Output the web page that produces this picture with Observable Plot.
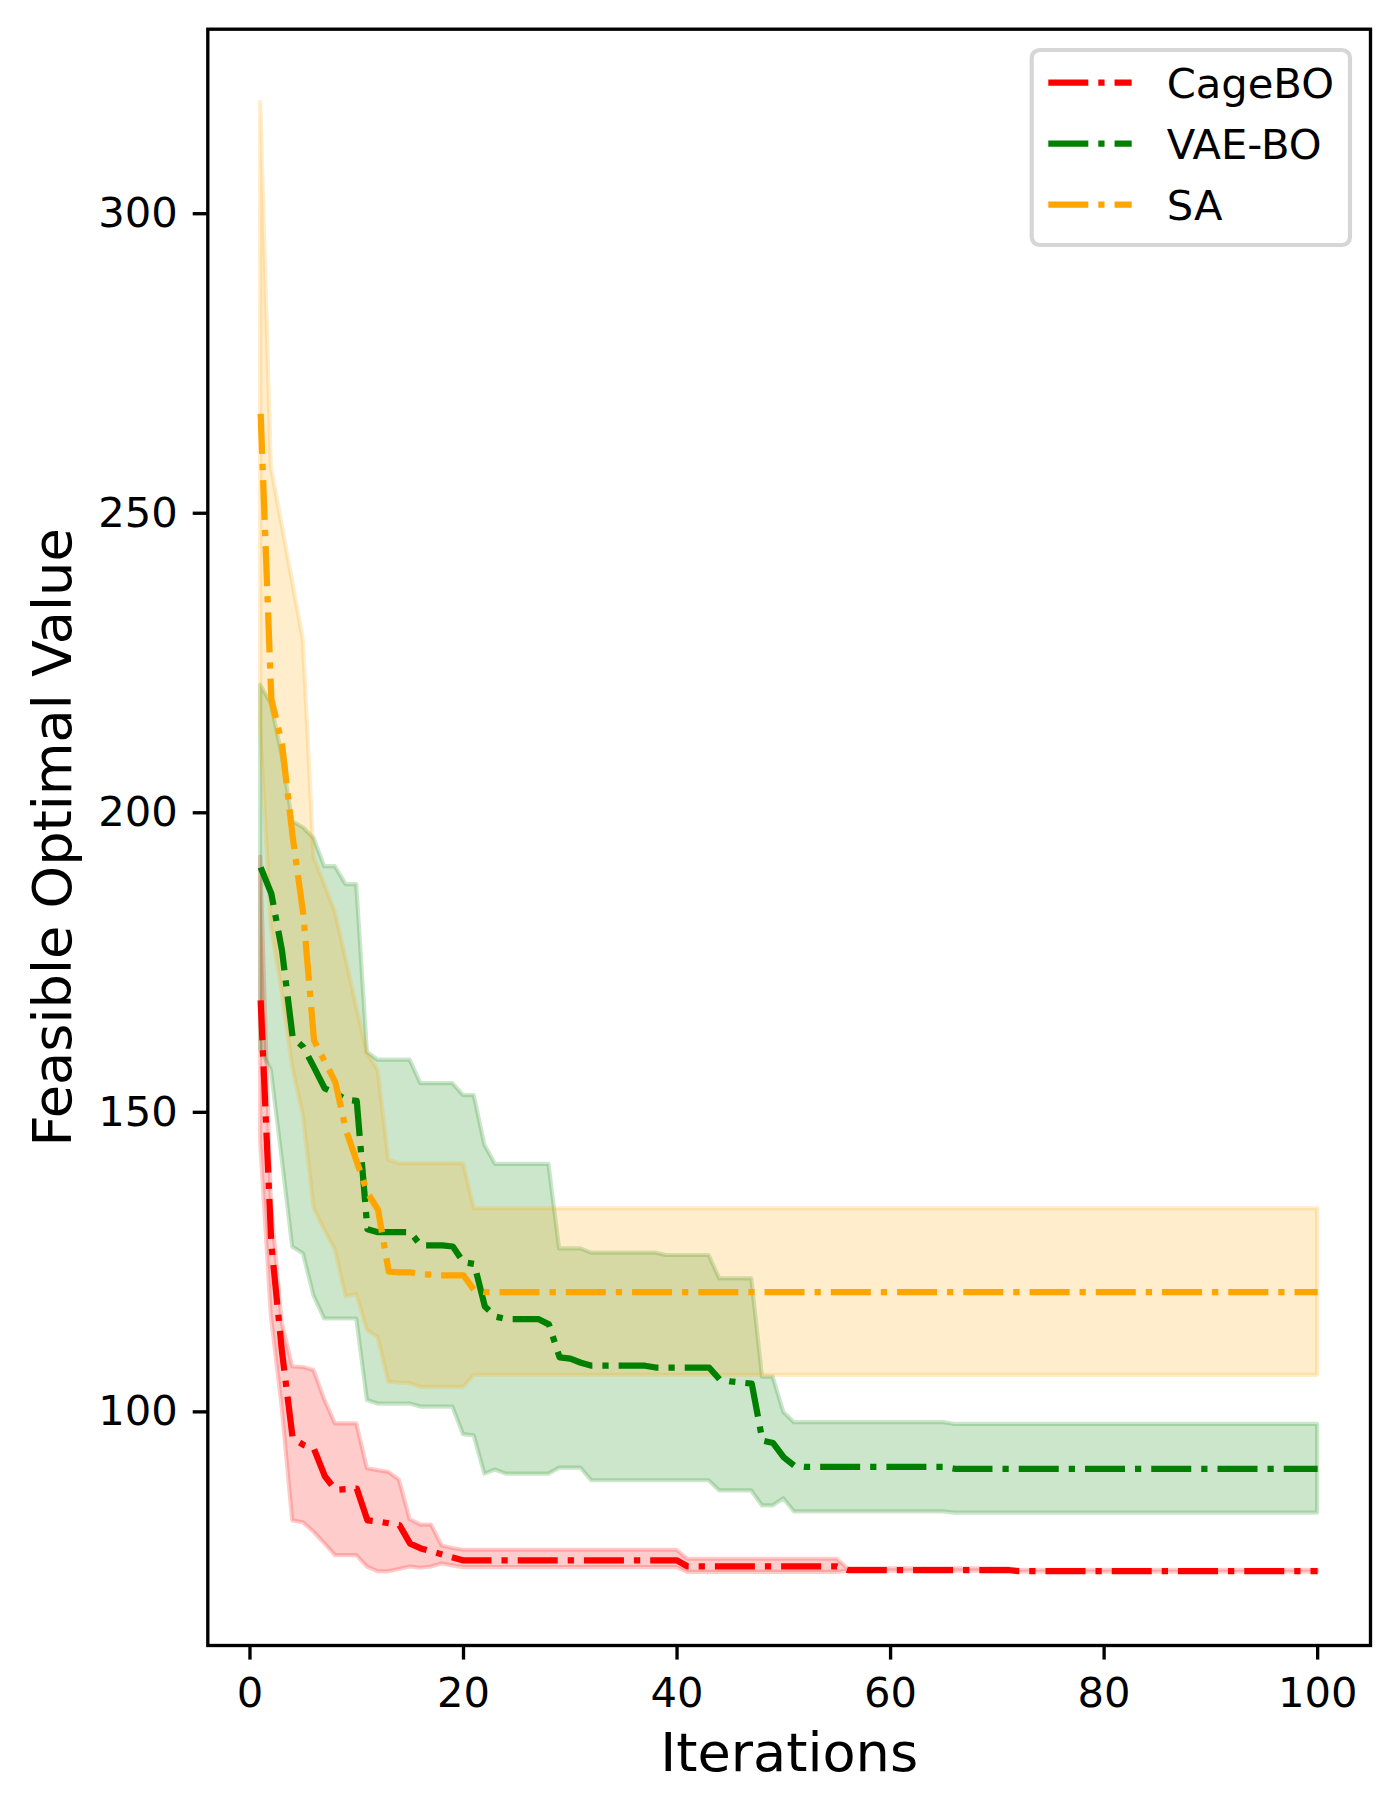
<!DOCTYPE html>
<html><head><meta charset="utf-8">
<script src="https://cdn.jsdelivr.net/npm/d3@7"></script>
<script src="https://cdn.jsdelivr.net/npm/@observablehq/plot@0.6"></script>
<style>
html,body{margin:0;padding:0;background:#fff;}
#wrap{position:relative;width:1399px;height:1814px;}
#legend{position:absolute;left:0;top:0;pointer-events:none;}
</style></head><body><div id="wrap"></div>
<script>
const iterations = [1,2,3,4,5,6,7,8,9,10,11,12,13,14,15,16,17,18,19,20,21,22,23,24,25,26,27,28,29,30,31,32,33,34,35,36,37,38,39,40,41,42,43,44,45,46,47,48,49,50,51,52,53,54,55,56,57,58,59,60,61,62,63,64,65,66,67,68,69,70,71,72,73,74,75,76,77,78,79,80,81,82,83,84,85,86,87,88,89,90,91,92,93,94,95,96,97,98,99,100];
const seriesNames = ["CageBO", "VAE-BO", "SA"];
const seriesColors = ["#ff0000", "#008000", "#ffa500"];
const xTicks = [0, 20, 40, 60, 80, 100];
const yTicks = [100, 150, 200, 250, 300];
const xLabel = "Iterations";
const yLabel = "Feasible Optimal Value";

const cageMean = [
168.7,128,110,95.6,94.5,93.8,89.3,87.0,87.1,87.2,
81.9,81.7,81.4,81.1,78.0,77.2,76.7,76.2,75.7,75.2,
75.2,75.2,75.2,75.2,75.2,75.2,75.2,75.2,75.2,75.2,
75.2,75.2,75.2,75.2,75.2,75.2,75.2,75.2,75.2,75.2,
74.2,74.2,74.2,74.2,74.2,74.2,74.2,74.2,74.2,74.2,
74.2,74.2,74.2,74.2,74.2,73.6,73.6,73.6,73.6,73.6,
73.6,73.6,73.6,73.6,73.6,73.6,73.6,73.6,73.6,73.6,
73.6,73.4,73.4,73.4,73.4,73.4,73.4,73.4,73.4,73.4,
73.4,73.4,73.4,73.4,73.4,73.4,73.4,73.4,73.4,73.4,
73.4,73.4,73.4,73.4,73.4,73.4,73.4,73.4,73.4,73.4];
const cageHi = [
192.6,135,115,107.5,107.4,106.9,102.0,98.0,98.0,98.0,
90.5,90.2,89.9,88.6,82.0,81.1,81.1,77.6,77.2,76.9,
76.9,76.9,76.9,76.9,76.9,76.9,76.9,76.9,76.9,76.9,
76.9,76.9,76.9,76.9,76.9,76.9,76.9,76.9,76.9,76.9,
75.4,75.4,75.4,75.4,75.4,75.4,75.4,75.4,75.4,75.4,
75.4,75.4,75.4,75.4,75.4,73.8,73.8,73.8,73.8,73.8,
73.8,73.8,73.8,73.8,73.8,73.8,73.8,73.8,73.8,73.8,
73.8,73.55,73.55,73.55,73.55,73.55,73.55,73.55,73.55,73.55,
73.55,73.55,73.55,73.55,73.55,73.55,73.55,73.55,73.55,73.55,
73.55,73.55,73.55,73.55,73.55,73.55,73.55,73.55,73.55,73.55];
const cageLo = [
145,116,101,81.8,81.5,79.9,78.0,76.0,76.0,76.0,
74.1,73.3,73.3,73.7,74.1,73.9,74.1,74.6,74.3,74.0,
74.0,74.0,74.0,74.0,74.0,74.0,74.0,74.0,74.0,74.0,
74.0,74.0,74.0,74.0,74.0,74.0,74.0,74.0,74.0,74.0,
73.2,73.2,73.2,73.2,73.2,73.2,73.2,73.2,73.2,73.2,
73.2,73.2,73.2,73.2,73.2,73.4,73.4,73.4,73.4,73.4,
73.4,73.4,73.4,73.4,73.4,73.4,73.4,73.4,73.4,73.4,
73.4,73.25,73.25,73.25,73.25,73.25,73.25,73.25,73.25,73.25,
73.25,73.25,73.25,73.25,73.25,73.25,73.25,73.25,73.25,73.25,
73.25,73.25,73.25,73.25,73.25,73.25,73.25,73.25,73.25,73.25];

const vaeMean = [
190.9,186.5,177.0,162.5,160.9,157.5,154.0,153.2,152.1,151.9,
130.5,130.0,130.0,130.0,130.0,127.8,127.8,127.8,127.6,125.0,
124.7,117.6,115.9,115.5,115.5,115.5,115.5,114.6,109.1,108.9,
108.2,107.7,107.7,107.7,107.7,107.7,107.7,107.4,107.4,107.4,
107.4,107.4,107.4,105.4,105.1,104.9,104.7,95.2,94.8,92.4,
91.0,90.8,90.8,90.8,90.8,90.8,90.8,90.8,90.8,90.8,
90.8,90.8,90.8,90.8,90.8,90.5,90.5,90.5,90.5,90.5,
90.5,90.5,90.5,90.5,90.5,90.5,90.5,90.5,90.5,90.5,
90.5,90.5,90.5,90.5,90.5,90.5,90.5,90.5,90.5,90.5,
90.5,90.5,90.5,90.5,90.5,90.5,90.5,90.5,90.5,90.5];
const vaeHi = [
221.3,218.2,209.7,198.5,197.5,195.7,191.0,191.0,188.0,188.0,
160.0,158.7,158.7,158.7,158.7,154.8,154.8,154.8,154.8,152.8,
152.8,144.5,141.3,141.3,141.3,141.3,141.3,141.3,127.2,127.2,
127.2,126.5,126.5,126.5,126.5,126.5,126.5,126.5,126.1,126.1,
126.1,126.1,126.1,122.2,122.2,122.2,122.2,105.8,105.8,99.9,
98.2,98.2,98.2,98.2,98.2,98.2,98.2,98.2,98.2,98.2,
98.2,98.2,98.2,98.2,98.2,97.9,97.9,97.9,97.9,97.9,
97.9,97.9,97.9,97.9,97.9,97.9,97.9,97.9,97.9,97.9,
97.9,97.9,97.9,97.9,97.9,97.9,97.9,97.9,97.9,97.9,
97.9,97.9,97.9,97.9,97.9,97.9,97.9,97.9,97.9,97.9];
const vaeLo = [
160.5,157.0,142.5,127.5,126.4,119.3,115.5,115.5,115.5,115.5,
101.9,101.3,101.3,101.3,101.3,100.8,100.8,100.8,100.8,96.2,
96.0,89.6,90.3,89.6,89.6,89.6,89.6,89.6,90.6,90.6,
90.6,88.5,88.5,88.5,88.5,88.5,88.5,88.5,88.5,88.5,
88.5,88.5,88.5,86.8,86.8,86.8,86.8,84.3,84.3,85.5,
83.3,83.3,83.3,83.3,83.3,83.3,83.3,83.3,83.3,83.3,
83.3,83.3,83.3,83.3,83.3,83.1,83.1,83.1,83.1,83.1,
83.1,83.1,83.1,83.1,83.1,83.1,83.1,83.1,83.1,83.1,
83.1,83.1,83.1,83.1,83.1,83.1,83.1,83.1,83.1,83.1,
83.1,83.1,83.1,83.1,83.1,83.1,83.1,83.1,83.1,83.1];

const saMean = [
266.6,219.0,211.5,196.0,183.0,162.0,158.5,155.0,147.0,141.8,
136.6,133.7,123.4,123.3,123.3,123.0,122.9,122.8,122.8,122.8,
120.3,120.0,120.0,120.0,120.0,120.0,120.0,120.0,120.0,120.0,
120.0,120.0,120.0,120.0,120.0,120.0,120.0,120.0,120.0,120.0,
120.0,120.0,120.0,120.0,120.0,120.0,120.0,120.0,120.0,120.0,
120.0,120.0,120.0,120.0,120.0,120.0,120.0,120.0,120.0,120.0,
120.0,120.0,120.0,120.0,120.0,120.0,120.0,120.0,120.0,120.0,
120.0,120.0,120.0,120.0,120.0,120.0,120.0,120.0,120.0,120.0,
120.0,120.0,120.0,120.0,120.0,120.0,120.0,120.0,120.0,120.0,
120.0,120.0,120.0,120.0,120.0,120.0,120.0,120.0,120.0,120.0];
const saHi = [
318.6,257.7,248.1,238.5,228.8,192.5,188.0,183.4,175.5,167.5,
159.8,157.0,142.0,141.4,141.4,141.4,141.4,141.4,141.4,141.4,
133.9,133.9,133.9,133.9,133.9,133.9,133.9,133.9,133.9,133.9,
133.9,133.9,133.9,133.9,133.9,133.9,133.9,133.9,133.9,133.9,
133.9,133.9,133.9,133.9,133.9,133.9,133.9,133.9,133.9,133.9,
133.9,133.9,133.9,133.9,133.9,133.9,133.9,133.9,133.9,133.9,
133.9,133.9,133.9,133.9,133.9,133.9,133.9,133.9,133.9,133.9,
133.9,133.9,133.9,133.9,133.9,133.9,133.9,133.9,133.9,133.9,
133.9,133.9,133.9,133.9,133.9,133.9,133.9,133.9,133.9,133.9,
133.9,133.9,133.9,133.9,133.9,133.9,133.9,133.9,133.9,133.9];
const saLo = [
214,181,170.3,157.5,149.5,134,130.3,127.0,119.2,119.6,
113.6,112.4,105.0,104.8,104.7,104.1,104.1,104.1,104.1,104.1,
106.1,106.1,106.1,106.1,106.1,106.1,106.1,106.1,106.1,106.1,
106.1,106.1,106.1,106.1,106.1,106.1,106.1,106.1,106.1,106.1,
106.1,106.1,106.1,106.1,106.1,106.1,106.1,106.1,106.1,106.1,
106.1,106.1,106.1,106.1,106.1,106.1,106.1,106.1,106.1,106.1,
106.1,106.1,106.1,106.1,106.1,106.1,106.1,106.1,106.1,106.1,
106.1,106.1,106.1,106.1,106.1,106.1,106.1,106.1,106.1,106.1,
106.1,106.1,106.1,106.1,106.1,106.1,106.1,106.1,106.1,106.1,
106.1,106.1,106.1,106.1,106.1,106.1,106.1,106.1,106.1,106.1];

const xDomain = [-3.95, 104.95];
const yDomain = [61.0, 330.8];

const series = [
  {name: seriesNames[0], color: seriesColors[0], mean: cageMean, lo: cageLo, hi: cageHi},
  {name: seriesNames[1], color: seriesColors[1], mean: vaeMean, lo: vaeLo, hi: vaeHi},
  {name: seriesNames[2], color: seriesColors[2], mean: saMean, lo: saLo, hi: saHi}
];
const tables = series.map(s => iterations.map((x, i) => ({series: s.name, x, mean: s.mean[i], lo: s.lo[i], hi: s.hi[i]})));

const DPI = 300 / 72;
const lw = 1.5 * DPI;
const dash = [6.4 * lw, 1.6 * lw, 1 * lw, 1.6 * lw].join(",");
const font = "DejaVu Sans, Liberation Sans, sans-serif";

const marks = [];
series.forEach((s, k) => marks.push(Plot.areaY(tables[k], {
  x: "x", y1: "lo", y2: "hi", fill: s.color, fillOpacity: 0.2,
  stroke: s.color, strokeOpacity: 0.2, strokeWidth: 1.0 * DPI, curve: "linear"
})));
series.forEach((s, k) => marks.push(Plot.line(tables[k], {
  x: "x", y: "mean", stroke: s.color, strokeWidth: lw,
  strokeDasharray: dash, strokeLinecap: "butt", strokeLinejoin: "round", curve: "linear"
})));
marks.push(Plot.axisX({ticks: xTicks, tickSize: 3.5 * DPI, tickPadding: 17, strokeWidth: 0.8 * DPI,
  fontSize: 10 * DPI, fontFamily: font, label: null}));
marks.push(Plot.axisX({ticks: [], label: xLabel, labelAnchor: "center", labelArrow: "none",
  labelOffset: 125, fontSize: 13 * DPI, fontFamily: font}));
marks.push(Plot.axisY({ticks: yTicks, tickSize: 3.5 * DPI, tickPadding: 15.5, strokeWidth: 0.8 * DPI,
  fontSize: 10 * DPI, fontFamily: font, label: null}));
marks.push(Plot.axisY({ticks: [], label: yLabel, labelAnchor: "center", labelArrow: "none",
  labelOffset: 175, fontSize: 13 * DPI, fontFamily: font}));
marks.push(Plot.frame({stroke: "black", strokeWidth: 0.8 * DPI}));

const W = 1399, H = 1814;
const mL = 207.3, mR = 29, mT = 28.7, mB = 169;
const chart = Plot.plot({
  width: W, height: H,
  marginLeft: mL, marginRight: mR, marginTop: mT, marginBottom: mB,
  x: {domain: xDomain},
  y: {domain: yDomain},
  style: {background: "white", color: "black", fontFamily: font, overflow: "visible"},
  marks
});
document.getElementById("wrap").appendChild(chart);

// Legend (matplotlib-style, upper right inside the axes)
const fs = 10 * DPI;
const lg = d3.select("#wrap").append("svg").attr("id", "legend")
  .attr("width", W).attr("height", H);
const box = {x: 1031.7, y: 50, w: 318.3, h: 195};
lg.append("rect").attr("x", box.x).attr("y", box.y).attr("width", box.w).attr("height", box.h)
  .attr("rx", 8).attr("ry", 8).attr("fill", "white").attr("fill-opacity", 0.8)
  .attr("stroke", "#cccccc").attr("stroke-opacity", 0.8).attr("stroke-width", 1.0 * DPI);
const rowY = i => 82.7 + i * 61;
const items = lg.selectAll("g.item").data(series).join("g").attr("class", "item");
items.append("line").attr("x1", 1048.3).attr("x2", 1131.7)
  .attr("y1", (d, i) => rowY(i)).attr("y2", (d, i) => rowY(i))
  .attr("stroke", d => d.color).attr("stroke-width", lw)
  .attr("stroke-dasharray", dash).attr("stroke-linecap", "butt");
items.append("text").attr("x", 1166.7).attr("y", (d, i) => rowY(i) + 15.3)
  .attr("font-family", font).attr("font-size", fs).attr("fill", "black")
  .text(d => d.name);
</script>
</body></html>
